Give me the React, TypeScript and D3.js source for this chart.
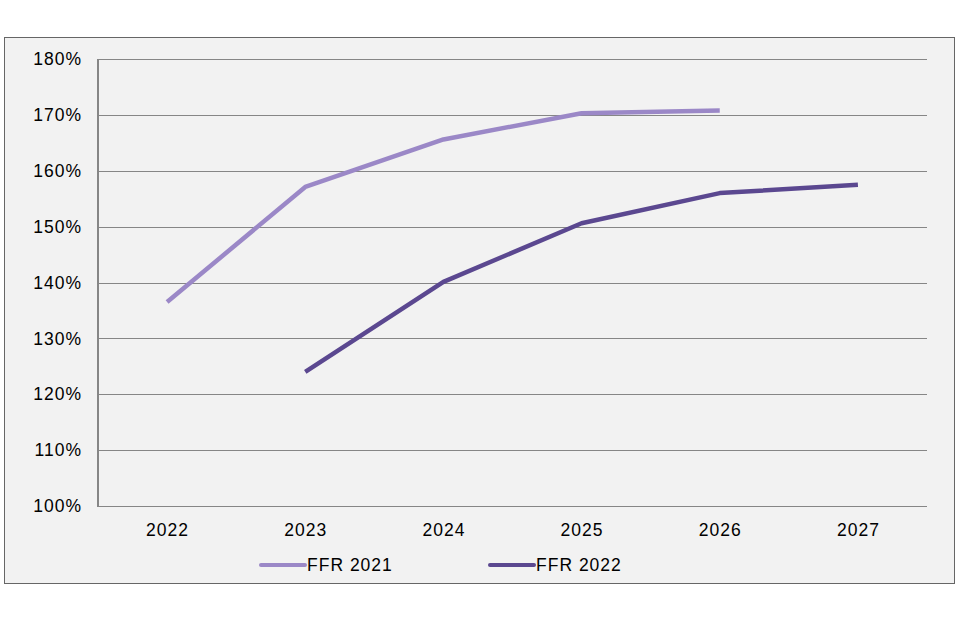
import React from "react";
import * as d3 from "d3";

const years = ["2022", "2023", "2024", "2025", "2026", "2027"];
const ffr2021Years = ["2022", "2023", "2024", "2025", "2026"];
const ffr2021 = [136.5, 157.1, 165.6, 170.3, 170.8];
const ffr2022Years = ["2023", "2024", "2025", "2026", "2027"];
const ffr2022 = [124.0, 140.1, 150.6, 156.0, 157.5];
const yTicks = [100, 110, 120, 130, 140, 150, 160, 170, 180];
const seriesNames = ["FFR 2021", "FFR 2022"];
const colors = ["#9b88c7", "#5b4890"];

export default function App() {
  const W = 960, H = 640;
  const left = 98, right = 927, top = 59, bottom = 506;
  const x = d3.scaleBand().domain(years).range([left, right]);
  const y = d3.scaleLinear().domain([100, 180]).range([bottom, top]);
  const line = d3
    .line<[string, number]>()
    .x((d) => (x(d[0]) as number) + x.bandwidth() / 2)
    .y((d) => y(d[1]));
  const s1: [string, number][] = ffr2021Years.map((yy, i) => [yy, ffr2021[i]]);
  const s2: [string, number][] = ffr2022Years.map((yy, i) => [yy, ffr2022[i]]);
  const font = "'Liberation Sans', Arial, sans-serif";
  const fs = 17.5;
  const ls = 1;
  return (
    <svg width={W} height={H} style={{ position: "absolute", left: 0, top: 0 }}>
      <rect x={0} y={0} width={W} height={H} fill="#ffffff" />
      <rect x={4.5} y={37.5} width={950} height={546} fill="#f2f2f2" stroke="#666" strokeWidth={1} />
      {yTicks.map((t) => (
        <g key={t}>
          {t !== 100 && (
            <line x1={left} x2={right} y1={Math.round(y(t)) + 0.5} y2={Math.round(y(t)) + 0.5} stroke="#868686" strokeWidth={1} />
          )}
          <text x={82} y={y(t)} dy="0.35em" textAnchor="end" fontFamily={font} fontSize={fs} letterSpacing={ls} fill="#000">
            {t}%
          </text>
        </g>
      ))}
      <line x1={left} x2={right} y1={bottom + 0.5} y2={bottom + 0.5} stroke="#868686" strokeWidth={1} />
      <line x1={left} x2={left} y1={top} y2={bottom + 1} stroke="#868686" strokeWidth={2} />
      {years.map((yy) => (
        <text key={yy} x={(x(yy) as number) + x.bandwidth() / 2 + ls / 2} y={530} dy="0.35em" textAnchor="middle" fontFamily={font} fontSize={fs} letterSpacing={ls} fill="#000">
          {yy}
        </text>
      ))}
      <path d={line(s1) || ""} fill="none" stroke={colors[0]} strokeWidth={4.5} strokeLinejoin="round" />
      <path d={line(s2) || ""} fill="none" stroke={colors[1]} strokeWidth={4.5} strokeLinejoin="round" />
      {seriesNames.map((n, i) => {
        const lx = i === 0 ? 261 : 490;
        return (
          <g key={n}>
            <line x1={lx} x2={lx + 44} y1={565} y2={565} stroke={colors[i]} strokeWidth={4} strokeLinecap="round" />
            <text x={lx + 46} y={565} dy="0.35em" fontFamily={font} fontSize={fs} letterSpacing={ls} fill="#000">
              {n}
            </text>
          </g>
        );
      })}
    </svg>
  );
}
